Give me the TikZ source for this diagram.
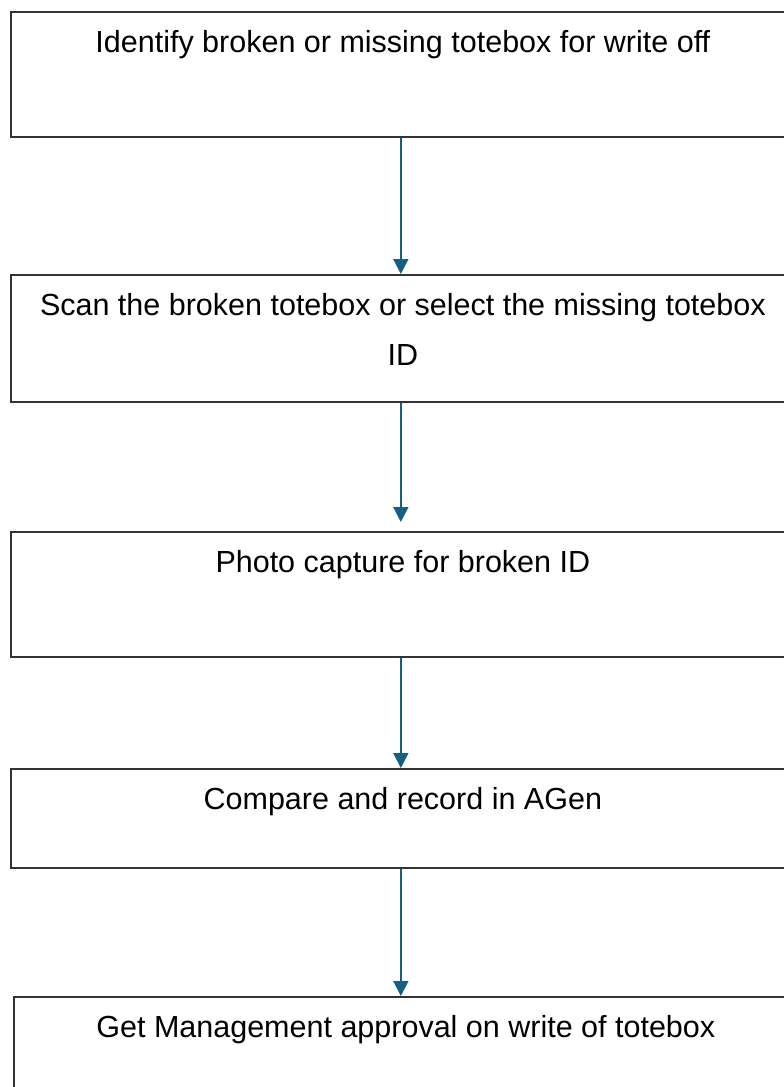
\documentclass[tikz,border=0pt]{standalone}
\usepackage{fontspec}
\setmainfont{Liberation Sans}
\usetikzlibrary{arrows.meta}
\definecolor{flowblue}{HTML}{156082}
\tikzset{
	stepbox/.style={draw=black!80, line width=1.7pt, minimum width=784pt, inner sep=0pt, anchor=north west},
	steptext/.style={anchor=north, inner sep=0pt, align=center, yshift=-19pt, font=\fontsize{30.5}{50}\selectfont},
	flow/.style={draw=flowblue, line width=1.8pt, -{Triangle[width=15pt,length=15pt]}}
}
\begin{document}
\begin{tikzpicture}[x=1pt,y=-1pt]
		\fill[white] (0,0) rectangle (784,1087);
		\useasboundingbox (0,0) rectangle (784,1087);

		\node[stepbox, minimum height=125pt] (box1) at (10,11) {};
		\node[stepbox, minimum height=127pt] (box2) at (10,274) {};
		\node[stepbox, minimum height=125pt] (box3) at (10,531) {};
		\node[stepbox, minimum height=99pt] (box4) at (10,768) {};
		\node[stepbox, minimum height=130pt] (box5) at (13,996) {};

		\node[steptext] (text1) at (box1.north) {Identify broken or missing totebox for write off};
		\node[steptext] (text2) at (box2.north) {Scan the broken totebox or select the missing totebox\\ID};
		\node[steptext] (text3) at (box3.north) {Photo capture for broken ID};
		\node[steptext] (text4) at (box4.north) {Compare and record in AGen};
		\node[steptext] (text5) at (box5.north) {Get Management approval on write of totebox};

		\draw[flow] ([xshift=-2pt]box1.south) -- ([xshift=-2pt]box2.north);
		\draw[flow, shorten >=9pt] ([xshift=-2pt]box2.south) -- ([xshift=-2pt]box3.north);
		\draw[flow] ([xshift=-2pt]box3.south) -- ([xshift=-2pt]box4.north);
		\draw[flow] ([xshift=-2pt]box4.south) -- ([xshift=-2pt]box4.south |- box5.north);
		\end{tikzpicture}
\end{document}
